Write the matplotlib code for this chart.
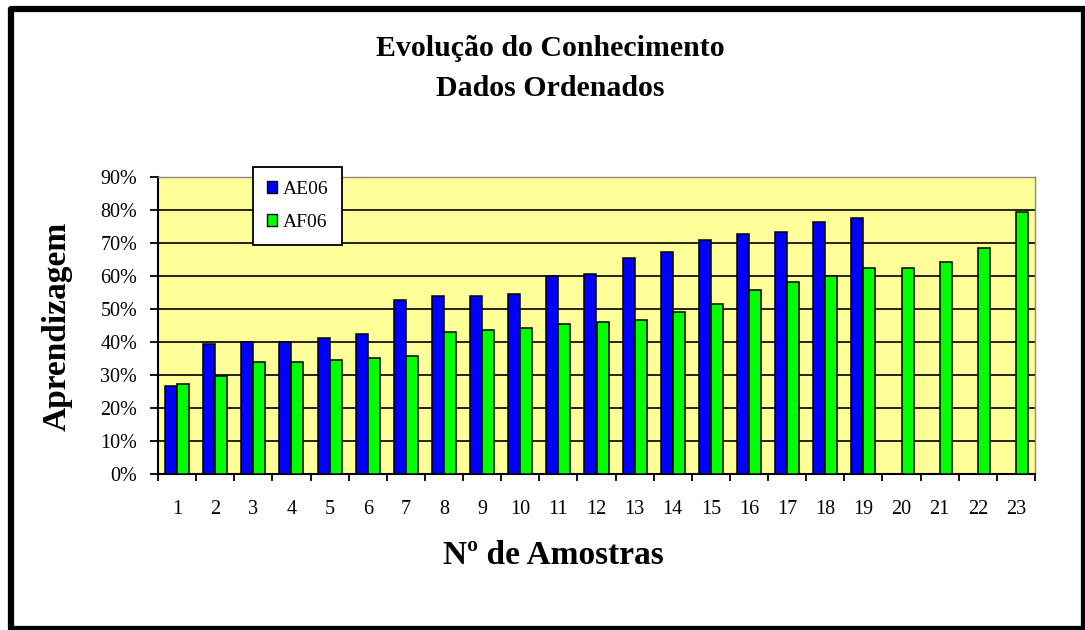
import numpy as np
import matplotlib
matplotlib.use("Agg")
import matplotlib.pyplot as plt
from matplotlib.patches import Patch, Rectangle

categories = [str(i) for i in range(1, 24)]
ae06 = [26.7, 39.4, 40.0, 40.0, 41.3, 42.5, 52.8, 54.0, 54.0, 54.6, 60.1, 60.7,
        65.5, 67.3, 71.0, 72.8, 73.4, 76.4, 77.7]
af06 = [27.3, 29.7, 34.0, 34.0, 34.6, 35.2, 35.8, 43.0, 43.6, 44.2, 45.5, 46.1,
        46.7, 49.0, 51.6, 55.8, 58.2, 60.1, 62.5, 62.5, 64.3, 68.6, 79.5]
yticks = [0, 10, 20, 30, 40, 50, 60, 70, 80, 90]
ytick_labels = [f"{v}%" for v in yticks]

title_lines = ["Evolução do Conhecimento", "Dados Ordenados"]
xlabel = "Nº de Amostras"
ylabel = "Aprendizagem"
series_names = ["AE06", "AF06"]

plt.rcParams['font.family'] = ['Liberation Serif', 'DejaVu Serif']

W, H = 1085, 630
fig = plt.figure(figsize=(W / 100, H / 100), dpi=100)
fig.patch.set_facecolor('white')

ax = fig.add_axes([158 / W, 1 - 474 / H, (1035 - 158) / W, (474 - 177.3) / H])
ax.set_facecolor('#FFFF99')

x = np.arange(1, len(categories) + 1)
bw = 0.315
blue = '#0000FF'
green = '#00FF00'
ax.bar(x[:len(ae06)] - bw / 2, np.array(ae06) / 100, width=bw, color=blue,
       edgecolor='black', linewidth=1.1, zorder=3)
ax.bar(x[:len(af06)] + bw / 2, np.array(af06) / 100, width=bw, color=green,
       edgecolor='black', linewidth=1.1, zorder=3)

ax.set_xlim(0.5, len(categories) + 0.5)
ax.set_ylim(0, 0.9)
ax.set_yticks(np.array(yticks) / 100)
ax.set_yticklabels(ytick_labels, fontsize=14.5)
ax.yaxis.grid(True, color='black', linewidth=1.2, zorder=1)
ax.set_axisbelow(True)

ax.set_xticks(np.arange(0.5, len(categories) + 1, 1.0))
ax.set_xticklabels([])
ax.set_xticks(x, minor=True)
ax.set_xticklabels(categories, minor=True, fontsize=14.5)
ax.tick_params(axis='x', which='major', length=5, width=1.3, direction='out', color='black')
ax.tick_params(axis='x', which='minor', length=0, pad=19)
ax.tick_params(axis='y', length=6, width=1.3, direction='out', pad=9, color='black')

for s in ['left', 'bottom']:
    ax.spines[s].set_color('black')
    ax.spines[s].set_linewidth(1.5)
for s in ['top', 'right']:
    ax.spines[s].set_color('#888888')
    ax.spines[s].set_linewidth(1.0)

fig.text(550 / W, 1 - 48 / H, title_lines[0], ha='center', va='center',
         fontsize=21.5, fontweight='bold')
fig.text(550 / W, 1 - 89 / H, title_lines[1], ha='center', va='center',
         fontsize=21.5, fontweight='bold')
fig.text(553 / W, 1 - 556 / H, xlabel, ha='center', va='center',
         fontsize=24, fontweight='bold')
fig.text(57 / W, 1 - 326 / H, ylabel, ha='center', va='center',
         fontsize=24, fontweight='bold', rotation=90)

handles = [Patch(facecolor=blue, edgecolor='black', linewidth=1.0),
           Patch(facecolor=green, edgecolor='black', linewidth=1.0)]
leg = fig.legend(handles, series_names, loc='upper left',
                 bbox_to_anchor=(253 / W, 1 - 167 / H), fontsize=14,
                 frameon=True, fancybox=False, shadow=False, framealpha=1,
                 edgecolor='black', handlelength=0.55, handleheight=0.55,
                 handletextpad=0.3, labelspacing=0.85, borderpad=0.7,
                 borderaxespad=0)
leg.get_frame().set_linewidth(1.3)
leg.set_zorder(10)

frame = Rectangle((11 / W, 1 - 628.5 / H), (1083.5 - 11) / W, (628.5 - 8.5) / H,
                  transform=fig.transFigure, fill=False, edgecolor='black',
                  linewidth=4.5, joinstyle='round', zorder=20)
fig.patches.append(frame)

fig.savefig('out.png', dpi=100)
